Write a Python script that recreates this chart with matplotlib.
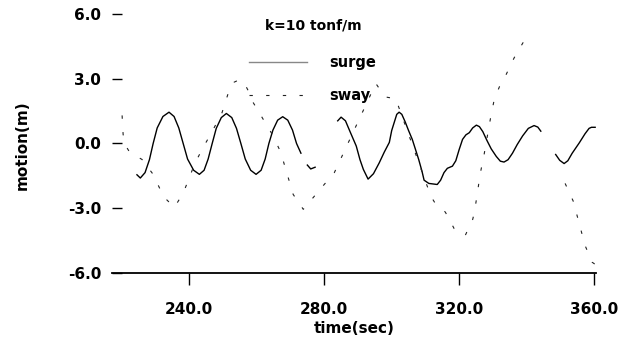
import numpy as np
import matplotlib
matplotlib.use('Agg')
import matplotlib.pyplot as plt

#T# data (time in sec, motion in m); nan marks parts lost in the scan
surge_t = [224.5, 225.5, 226.9, 228.2, 229.3, 230.5, 232.2, 234.0, 235.5, 236.9, 238.2, 239.5,
           241.3, 243.0, 244.4, 245.6, 246.8, 248.0, 249.5, 251.0, 252.6, 254.0, 255.3, 256.6,
           258.2, 259.8, 261.3, 262.5, 263.6, 264.8, 266.2, 267.7, 269.2, 270.6, 271.8, 273.1,
           np.nan, 275.0, 276.0, 277.3, np.nan, 284.0, 285.0, 286.3, 287.6, 289.5, 290.6, 291.6,
           293.0, 294.6, 296.3, 297.8, 299.3, 300.0, 300.8, 301.5, 302.2, 303.0, 304.0, 305.0,
           306.1, 308.0, 309.0, 309.6, 311.0, 312.5, 313.5, 314.5, 315.5, 316.5, 318.0, 319.0,
           320.0, 321.0, 322.0, 323.0, 324.0, 325.1, 326.0, 327.0, 328.2, 329.5, 331.0, 332.2,
           333.3, 334.5, 335.8, 337.2, 338.8, 340.5, 342.2, 343.3, 344.2, np.nan, 348.6, 349.8,
           351.1, 352.2, 353.5, 355.6, 357.3, 358.5, 359.2, 360.3]
surge_y = [-1.45, -1.60, -1.35, -0.75, 0.00, 0.72, 1.25, 1.45, 1.25, 0.72, 0.00, -0.72,
           -1.24, -1.43, -1.24, -0.72, 0.00, 0.70, 1.20, 1.39, 1.20, 0.70, 0.00, -0.72,
           -1.24, -1.43, -1.24, -0.72, 0.00, 0.62, 1.08, 1.24, 1.08, 0.62, 0.00, -0.45,
           np.nan, -1.00, -1.18, -1.10, np.nan, 1.05, 1.22, 1.05, 0.57, -0.12, -0.75, -1.20,
           -1.65, -1.40, -0.90, -0.40, 0.05, 0.60, 1.00, 1.35, 1.45, 1.35, 1.00, 0.60,
           0.19, -0.74, -1.30, -1.70, -1.85, -1.88, -1.90, -1.70, -1.35, -1.15, -1.05, -0.80,
           -0.28, 0.19, 0.40, 0.50, 0.72, 0.85, 0.78, 0.55, 0.15, -0.25, -0.60, -0.82,
           -0.86, -0.75, -0.45, -0.05, 0.35, 0.70, 0.83, 0.76, 0.57, np.nan, -0.51, -0.78,
           -0.93, -0.80, -0.45, 0.03, 0.45, 0.70, 0.75, 0.75]

sway_t = [220.1, 220.4, 221.3, 222.4, 226.0, 229.3, 231.6, 232.3, 235.6, 238.2, 240.3, 241.5,
          244.0, 246.8, 249.7, 251.9, 253.3, 254.8, 256.3, 257.8, 258.7, 262.0, 264.6, 267.2,
          268.0, 269.5, 270.8, 273.8, 280.0, 283.0, 295.3, 298.0, 301.2, 311.6, 313.0, 315.9,
          318.5, 321.8, 324.0, 324.5, 325.4, 326.2, 327.4, 329.4, 330.4, 332.4, 333.6, 336.3,
          339.6, np.nan, 351.4, 353.8, 355.8, 357.3, 359.4, 360.3]
sway_y = [1.30, 0.42, -0.14, -0.42, -0.74, -1.43, -2.20, -2.45, -2.96, -2.30, -1.48, -0.97,
          -0.22, 0.56, 1.42, 2.50, 2.84, 2.95, 2.80, 2.35, 1.96, 1.10, 0.42, -0.43,
          -0.88, -1.67, -2.36, -3.05, -1.90, -1.35, 2.78, 2.16, 2.07, -2.44, -2.80, -3.18,
          -3.94, -4.26, -3.52, -3.20, -2.30, -1.43, -0.50, 1.27, 2.04, 2.81, 3.09, 3.97,
          4.85, np.nan, -1.85, -2.67, -3.84, -4.72, -5.50, -5.60]

x_ticks = [240, 280, 320, 360]
y_ticks = [-6, -3, 0, 3, 6]

#T# create the figure and axes
fig1 = plt.figure(figsize=(6.4, 3.44), dpi=100)
ax1 = fig1.add_axes([0.1755, 0.2064, 0.756, 0.753])

#T# plot the two series
ax1.plot(surge_t, surge_y, color='black', lw=1.0, label='surge')
ax1.plot(sway_t, sway_y, color='#222222', lw=0.8, linestyle=(0, (3, 12)), label='sway')

#T# axes limits, ticks and spines
ax1.set_xlim(217.2, 360.6)
ax1.set_ylim(-6, 6)
for it1 in ['top', 'left', 'right']:
    ax1.spines[it1].set_visible(False)
ax1.spines['bottom'].set_linewidth(1.3)
ax1.set_xticks(x_ticks)
ax1.set_xticklabels(['%.1f' % v for v in x_ticks])
ax1.set_yticks(y_ticks)
ax1.set_yticklabels(['%.1f' % v for v in y_ticks])
ax1.tick_params(axis='x', direction='out', length=8.6, width=1.0, pad=12, labelsize=11)
ax1.tick_params(axis='y', direction='in', length=7, width=1.0, pad=8, labelsize=11)
for lab in ax1.get_xticklabels() + ax1.get_yticklabels():
    lab.set_fontweight('bold')

#T# labels and title
ax1.set_xlabel('time(sec)', fontsize=11, fontweight='bold', labelpad=3)
ax1.set_ylabel('motion(m)', fontsize=11, fontweight='bold')
ax1.yaxis.set_label_coords(-0.17, 0.494)
ax1.text(0.415, 0.954, 'k=10 tonf/m', transform=ax1.transAxes, ha='center', va='center',
         fontsize=10, fontweight='bold')

#T# legend
leg = ax1.legend(loc='upper left', bbox_to_anchor=(0.2555, 0.893), frameon=False,
                 prop={'size': 10.5, 'weight': 'bold'}, handlelength=4.0,
                 handletextpad=1.5, labelspacing=1.25)
leg.get_lines()[0].set_color('#888888')

fig1.savefig('out.png', dpi=100)
